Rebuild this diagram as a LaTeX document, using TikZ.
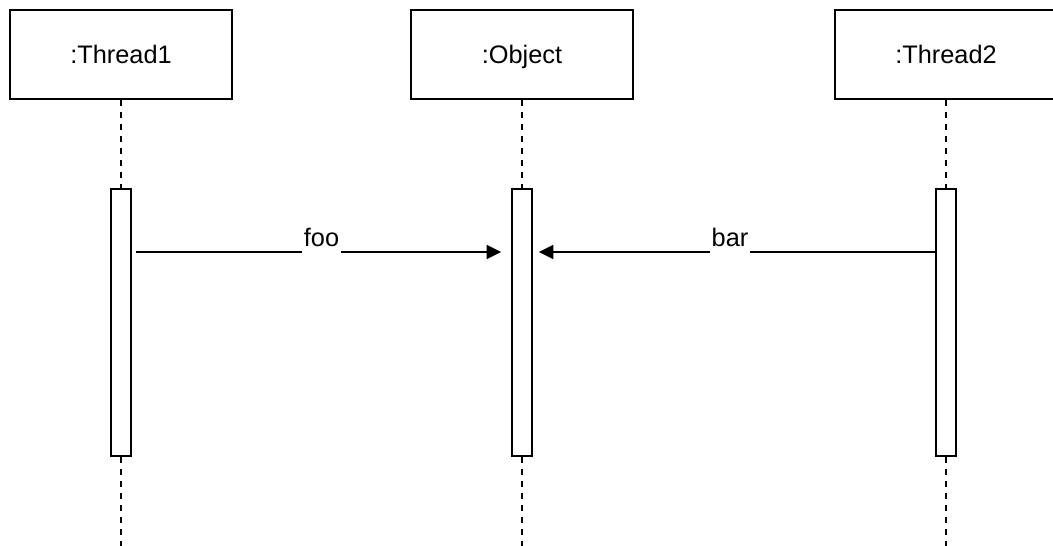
\documentclass[tikz,border=0pt]{standalone}
\usepackage{fontspec}
\setmainfont{Liberation Sans}
\usetikzlibrary{arrows.meta,positioning}

\tikzset{
  objbox/.style={draw, line width=1.6pt, minimum width=166pt, minimum height=66.5pt, inner sep=0pt, text height=14pt, text depth=0pt, font=\fontsize{19}{23}\selectfont},
  actbar/.style={draw, line width=1.6pt, fill=white, minimum width=15.5pt, minimum height=200pt, inner sep=0pt},
  life/.style={line width=1.6pt, dash pattern={on 4.5pt off 4.5pt}},
  msg/.style={line width=1.6pt, -{Triangle[length=11pt,width=10.5pt]}},
  lbl/.style={fill=white, inner xsep=1.5pt, inner ysep=0pt, minimum height=26pt, font=\fontsize{19}{23}\selectfont}
}

\begin{document}
\begin{tikzpicture}[x=0.75pt,y=0.75pt,yscale=-1,xscale=1]
    \useasboundingbox (0,0) rectangle (1053,546);
    \clip (0,0) rectangle (1053,546);

    % Lifeline heads
    \node[objbox] (thr1) at (121,54.5) {:Thread1};
    \node[objbox] (obj) at (522,54.5) {:Object};
    \node[objbox] (thr2) at (946,54.5) {:Thread2};

    % Activation bars
    \node[actbar] (act1) at (121,322.5) {};
    \node[actbar] (acto) at (522,322.5) {};
    \node[actbar] (act2) at (946,322.5) {};

    % Lifeline ends
    \coordinate (end1) at (121,546);
    \coordinate (endo) at (522,546);
    \coordinate (end2) at (946,546);
    \coordinate (msgy) at (0,252);

    % Dashed lifelines
    \draw[life] (thr1) -- (act1);
    \draw[life] (act1) -- (end1);
    \draw[life] (obj) -- (acto);
    \draw[life] (acto) -- (endo);
    \draw[life] (thr2) -- (act2);
    \draw[life] (act2) -- (end2);

    % Messages
    \draw[msg, shorten <=3pt, shorten >=7pt] (act1.east |- msgy) -- node[lbl, pos=0.5, yshift=11pt] (foo) {foo} (acto.west |- msgy);
    \draw[msg, shorten >=4pt] (act2.west |- msgy) -- node[lbl, pos=0.51, yshift=11pt] (bar) {bar} (acto.east |- msgy);

\end{tikzpicture}
\end{document}
